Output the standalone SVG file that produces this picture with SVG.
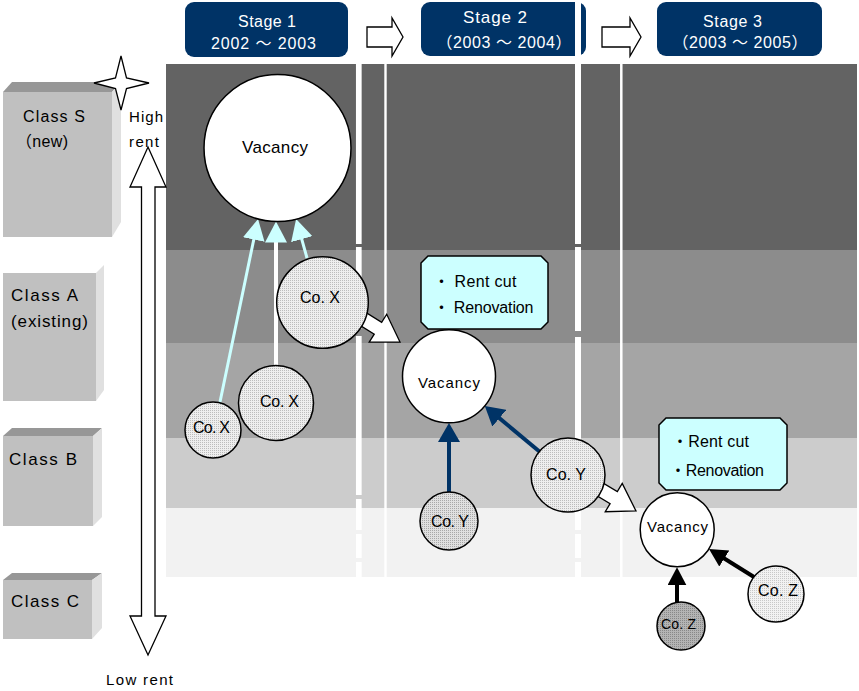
<svg xmlns="http://www.w3.org/2000/svg" width="859" height="691" viewBox="0 0 859 691">
<defs>
<style>
.t{font-family:"Liberation Sans","Noto Sans CJK JP",sans-serif;fill:#000;font-size:15px}
.hd{fill:#fff;font-size:16px}
.co{font-size:16px}
.band{stroke:none}
.wl{stroke:#fff;fill:none}
.hdr{fill:#003366}
.blk{fill:#fff;stroke:#000;stroke-width:1.3}
.front{fill:#c0c0c0}
.top{fill:#979797}
.side{fill:#e0e0e0}
.circ{stroke:#000;stroke-width:1.5}
.info{fill:#ccffff;stroke:#000;stroke-width:1.5}
.cyan{stroke:#ccffff;stroke-width:3;fill:none}
.blue{stroke:#003366;stroke-width:4;fill:none}
.black{stroke:#000;stroke-width:4;fill:none}
</style>
<pattern id="dotX" width="2" height="2" patternUnits="userSpaceOnUse"><rect width="2" height="2" fill="#eeeeee"/><rect width="1" height="1" fill="#bcbcbc"/></pattern>
<pattern id="dotY" width="2" height="2" patternUnits="userSpaceOnUse"><rect width="2" height="2" fill="#e0e0e0"/><rect width="1" height="1" fill="#a8a8a8"/></pattern>
<pattern id="dotZ" width="2" height="2" patternUnits="userSpaceOnUse"><rect width="2" height="2" fill="#b4b4b4"/><rect width="1" height="1" fill="#888888"/></pattern>
<pattern id="dotZ2" width="2" height="2" patternUnits="userSpaceOnUse"><rect width="2" height="2" fill="#f2f2f2"/><rect width="1" height="1" fill="#c8c8c8"/></pattern>
<marker id="mCyan" markerUnits="userSpaceOnUse" markerWidth="22" markerHeight="22" refX="11" refY="11" orient="auto"><path d="M0,0 L21,11 L0,22 z" fill="#ccffff"/></marker>
<marker id="mBlue" markerUnits="userSpaceOnUse" markerWidth="20" markerHeight="22" refX="9" refY="11" orient="auto"><path d="M0,0 L19,11 L0,22 z" fill="#003366"/></marker>
<marker id="mBlack" markerUnits="userSpaceOnUse" markerWidth="19" markerHeight="20" refX="8" refY="9.5" orient="auto"><path d="M0,0 L18,9.5 L0,19 z" fill="#000"/></marker>
</defs>
<rect width="859" height="691" fill="#fff"/>

<g id="bands">
<rect class="band" x="166" y="64" width="691" height="186" fill="#636363"/>
<rect class="band" x="166" y="250" width="691" height="93" fill="#8c8c8c"/>
<rect class="band" x="166" y="343" width="691" height="95" fill="#a5a5a5"/>
<rect class="band" x="166" y="438" width="691" height="70" fill="#cccccc"/>
<rect class="band" x="166" y="508" width="691" height="69" fill="#f2f2f2"/>
</g>

<g id="headers">
<g id="stage1"><rect class="hdr" x="185" y="2" width="163" height="55" rx="9"/>
<text class="t hd" x="238" y="27" textLength="58">Stage 1</text>
<text class="t hd" x="211" y="49" textLength="105">2002 ～ 2003</text></g>
<g id="stage2"><rect class="hdr" x="421" y="2" width="165" height="54" rx="9"/>
<text class="t hd" x="463" y="23" textLength="64" style="font-size:17px">Stage 2</text>
<text class="t hd" x="504" y="48" text-anchor="middle" textLength="135">（2003 ～ 2004）</text></g>
<g id="stage3"><rect class="hdr" x="657" y="2" width="165" height="54" rx="9"/>
<text class="t hd" x="703" y="27" textLength="59">Stage 3</text>
<text class="t hd" x="740" y="48" text-anchor="middle" textLength="135">（2003 ～ 2005）</text></g>
</g>

<g id="dividers">
<path class="wl" stroke-width="5.7" d="M358.8,64V244M358.8,247V329M358.8,336V495M358.8,499V530M358.8,534V558M358.8,562V577"/>
<line class="wl" stroke-width="2.4" x1="385.5" y1="64" x2="385.5" y2="577"/>
<path class="wl" stroke-width="6" d="M578,0V244M578,247V331M578,337V501M578,505V530M578,534V558M578,562V577"/>
<line class="wl" stroke-width="2.5" x1="621.3" y1="64" x2="621.3" y2="577"/>
</g>

<g id="stage-arrows">
<polygon class="blk" points="367,27 392,27 392,18 403,37 392,56 392,47 367,47"/>
<polygon class="blk" points="602,27 630,27 630,18 641,37 630,56 630,47 602,47"/>
</g>

<g id="classS">
<rect class="front" x="3" y="92" width="109" height="145"/>
<polygon class="top" points="3,92 12,82 121,82 112,92"/>
<polygon class="side" points="112,92 121,82 121,222 112,237"/>
<text class="t" x="23" y="122" textLength="62" style="font-size:16px">Class S</text>
<text class="t" x="16" y="147" textLength="52" style="font-size:16px">（new)</text>
</g>
<g id="classA">
<rect class="front" x="3" y="273" width="93" height="128"/>
<polygon class="side" points="96,273 104,265 104,390 96,401"/>
<text class="t" x="11" y="301" textLength="67" style="font-size:17px">Class A</text>
<text class="t" x="11" y="327" textLength="77" style="font-size:17px">(existing)</text>
</g>
<g id="classB">
<rect class="front" x="3" y="436" width="90" height="90"/>
<polygon class="top" points="3,436 12,428 102,428 93,436"/>
<polygon class="side" points="93,436 102,428 102,517 93,526"/>
<text class="t" x="9" y="465" textLength="68" style="font-size:17px">Class B</text>
</g>
<g id="classC">
<rect class="front" x="3" y="580" width="89" height="59"/>
<polygon class="top" points="3,580 12,573 102,573 92,580"/>
<polygon class="side" points="92,580 102,573 102,628 92,639"/>
<text class="t" x="11" y="607" textLength="68" style="font-size:17px">Class C</text>
</g>

<g id="star">
<polygon points="121,56 126.5,78 149,83 126.5,88.5 121,110 115.5,88.5 94,83 115.5,78" fill="#fff" stroke="#000" stroke-width="1.3"/>
</g>

<g id="rent-scale">
<polygon class="blk" points="148,147 166,187 155,187 155,616 166,616 148,655 130,616 141.5,616 141.5,187 130,187"/>
<text class="t" x="129" y="122" textLength="34">High</text>
<text class="t" x="129" y="147" textLength="30">rent</text>
<text class="t" x="106" y="685" textLength="67">Low rent</text>
</g>

<g id="connectors">
<line class="cyan" x1="220" y1="402" x2="256" y2="228.8" marker-end="url(#mCyan)"/>
<line stroke="#fff" stroke-width="4" x1="276" y1="365" x2="276" y2="231.5" marker-end="url(#mCyan)"/>
<line class="cyan" x1="307" y1="258" x2="298.8" y2="228.6" marker-end="url(#mCyan)"/>
<polygon class="blk" transform="translate(400,342) rotate(32)" points="-82,-7 -26,-7 -26,-16.5 0,0 -26,16.5 -26,7 -82,7"/>
<polygon class="blk" transform="translate(636,511) rotate(31)" points="-78,-7 -26,-7 -26,-16.5 0,0 -26,16.5 -26,7 -78,7"/>
<line class="blue" x1="449" y1="492" x2="449" y2="433" marker-end="url(#mBlue)"/>
<line class="blue" x1="540" y1="452" x2="492.5" y2="412.4" marker-end="url(#mBlue)"/>
<line class="black" x1="677" y1="603" x2="677" y2="577.3" marker-end="url(#mBlack)"/>
<line class="black" x1="754" y1="577" x2="717.5" y2="554.3" marker-end="url(#mBlack)"/>
</g>

<g id="vacancy1"><circle class="circ" cx="277.5" cy="148" r="73.5" fill="#fff"/>
<text class="t" x="242" y="153" textLength="66" style="font-size:17px">Vacancy</text></g>
<g id="coX1"><circle class="circ" cx="322.5" cy="302.5" r="45.8" fill="url(#dotX)"/>
<text class="t co" x="300" y="303" textLength="40">Co. X</text></g>
<g id="coX2"><circle class="circ" cx="276" cy="403" r="37.5" fill="url(#dotX)"/>
<text class="t co" x="260" y="407" textLength="39">Co. X</text></g>
<g id="coX3"><circle class="circ" cx="213" cy="430" r="28" fill="url(#dotX)"/>
<text class="t co" x="193" y="433" textLength="37">Co. X</text></g>

<g id="info1"><path class="info" d="M428,256 H541 L548,263 V322 L541,329 H428 L421,322 V263 Z"/>
<text class="t co" x="433.5" y="287" textLength="83">・ Rent cut</text>
<text class="t co" x="433.5" y="313" textLength="100">・ Renovation</text></g>
<g id="vacancy2"><circle class="circ" cx="449" cy="376.3" r="46.5" fill="#fff"/>
<text class="t" x="418" y="388" textLength="62">Vacancy</text></g>
<g id="coY1"><circle class="circ" cx="568" cy="475" r="37" fill="url(#dotX)"/>
<text class="t co" x="546" y="480" textLength="40">Co. Y</text></g>
<g id="coY2"><circle class="circ" cx="449" cy="521" r="29" fill="url(#dotY)"/>
<text class="t co" x="431" y="527" textLength="38">Co. Y</text></g>

<g id="info2"><path class="info" d="M666,418 H780 L787,425 V483 L780,490 H666 L659,483 V425 Z"/>
<text class="t co" x="672" y="447" textLength="77">・Rent cut</text>
<text class="t co" x="670" y="476" textLength="94">・Renovation</text></g>
<g id="vacancy3"><circle class="circ" cx="677.2" cy="529.7" r="37" fill="#fff"/>
<text class="t" x="647" y="532" textLength="61">Vacancy</text></g>
<g id="coZ1"><circle class="circ" cx="681" cy="626" r="24" fill="url(#dotZ)"/>
<text class="t" x="661" y="629" textLength="35" style="font-size:14px">Co. Z</text></g>
<g id="coZ2"><circle class="circ" cx="776" cy="594" r="28" fill="url(#dotZ2)"/>
<text class="t co" x="758" y="596" textLength="40">Co. Z</text></g>
</svg>
